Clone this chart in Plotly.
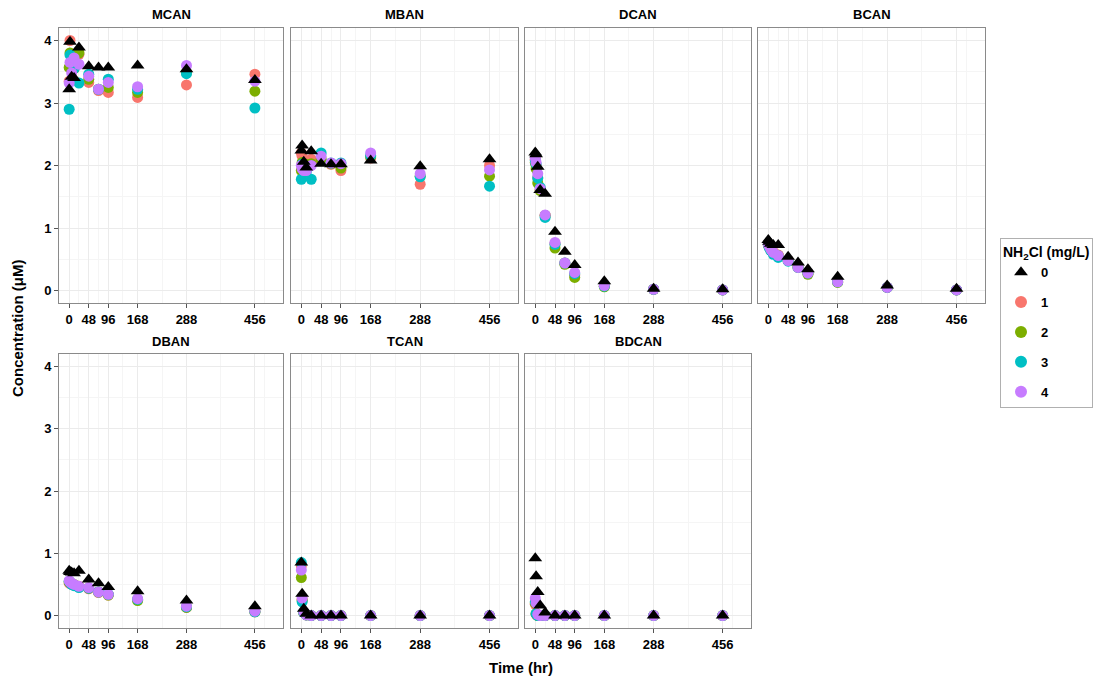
import plotly.graph_objects as go

# Sampling times (hr)
times = [0, 2, 6, 12, 24, 48, 72, 96, 168, 288, 456]

compounds = ["MCAN", "MBAN", "DCAN", "BCAN", "DBAN", "TCAN", "BDCAN"]
doses = ["0", "1", "2", "3", "4"]  # NH2Cl (mg/L)

# Concentration (uM) per compound, one list per dose
MCAN = {
    "0": [3.22, 3.98, 3.42, 3.40, 3.89, 3.59, 3.57, 3.57, 3.60, 3.54, 3.37],
    "1": [3.35, 4.00, 3.72, 3.60, 3.78, 3.33, 3.20, 3.17, 3.09, 3.29, 3.46],
    "2": [3.57, 3.80, 3.62, 3.55, 3.80, 3.38, 3.22, 3.25, 3.17, 3.49, 3.19],
    "3": [2.90, 3.77, 3.70, 3.55, 3.32, 3.46, 3.22, 3.38, 3.22, 3.47, 2.92],
    "4": [3.32, 3.65, 3.48, 3.72, 3.62, 3.43, 3.22, 3.33, 3.26, 3.60, 3.35],
}
MBAN = {
    "0": [2.24, 2.32, 2.06, 1.97, 2.23, 2.03, 2.02, 2.02, 2.08, 1.99, 2.10],
    "1": [2.20, 2.15, 2.05, 2.00, 2.10, 2.08, 2.02, 1.92, 2.12, 1.70, 2.00],
    "2": [1.92, 2.05, 2.00, 2.02, 2.03, 2.10, 2.03, 1.96, 2.14, 1.83, 1.83],
    "3": [1.78, 2.02, 1.95, 1.90, 1.78, 2.20, 2.04, 2.04, 2.16, 1.82, 1.67],
    "4": [2.00, 1.95, 1.92, 1.92, 2.00, 2.15, 2.04, 2.03, 2.20, 1.87, 1.93],
}
DCAN = {
    "0": [2.21, 2.18, 1.98, 1.61, 1.55, 0.94, 0.62, 0.41, 0.15, 0.03, 0.02],
    "1": [2.10, 2.00, 1.80, 1.62, 1.20, 0.75, 0.44, 0.25, 0.07, 0.02, 0.01],
    "2": [2.05, 1.95, 1.72, 1.60, 1.20, 0.68, 0.42, 0.21, 0.06, 0.02, 0.01],
    "3": [2.08, 2.02, 1.80, 1.65, 1.17, 0.74, 0.44, 0.27, 0.07, 0.02, 0.01],
    "4": [2.12, 2.05, 1.87, 1.63, 1.21, 0.77, 0.44, 0.29, 0.08, 0.02, 0.01],
}
BCAN = {
    "0": [0.81, 0.78, 0.75, 0.73, 0.73, 0.54, 0.45, 0.34, 0.22, 0.08, 0.03],
    "1": [0.74, 0.70, 0.66, 0.62, 0.57, 0.48, 0.38, 0.28, 0.14, 0.05, 0.01],
    "2": [0.73, 0.70, 0.65, 0.60, 0.56, 0.48, 0.37, 0.26, 0.13, 0.05, 0.01],
    "3": [0.74, 0.69, 0.64, 0.58, 0.53, 0.47, 0.37, 0.28, 0.14, 0.05, 0.01],
    "4": [0.75, 0.71, 0.66, 0.61, 0.56, 0.48, 0.37, 0.28, 0.14, 0.05, 0.01],
}
DBAN = {
    "0": [0.72, 0.70, 0.69, 0.68, 0.72, 0.58, 0.52, 0.46, 0.39, 0.24, 0.15],
    "1": [0.52, 0.53, 0.50, 0.49, 0.47, 0.43, 0.37, 0.33, 0.25, 0.13, 0.06],
    "2": [0.54, 0.53, 0.51, 0.50, 0.46, 0.44, 0.38, 0.33, 0.24, 0.13, 0.06],
    "3": [0.55, 0.54, 0.50, 0.48, 0.45, 0.44, 0.38, 0.34, 0.26, 0.14, 0.06],
    "4": [0.56, 0.54, 0.52, 0.50, 0.47, 0.45, 0.38, 0.34, 0.27, 0.15, 0.07],
}
TCAN = {
    "0": [0.85, 0.35, 0.11, 0.03, 0.00, 0.00, 0.00, 0.00, 0.00, 0.00, 0.00],
    "1": [0.80, 0.26, 0.05, 0.01, 0.00, 0.00, 0.00, 0.00, 0.00, 0.00, 0.00],
    "2": [0.61, 0.24, 0.05, 0.01, 0.00, 0.00, 0.00, 0.00, 0.00, 0.00, 0.00],
    "3": [0.85, 0.22, 0.05, 0.01, 0.00, 0.00, 0.00, 0.00, 0.00, 0.00, 0.00],
    "4": [0.73, 0.28, 0.06, 0.01, 0.00, 0.00, 0.00, 0.00, 0.00, 0.00, 0.00],
}
BDCAN = {
    "0": [0.92, 0.63, 0.38, 0.16, 0.05, 0.00, 0.00, 0.00, 0.00, 0.00, 0.00],
    "1": [0.18, 0.02, 0.00, 0.00, 0.00, 0.00, 0.00, 0.00, 0.00, 0.00, 0.00],
    "2": [0.20, 0.03, 0.00, 0.00, 0.00, 0.00, 0.00, 0.00, 0.00, 0.00, 0.00],
    "3": [0.22, 0.03, 0.00, 0.00, 0.00, 0.00, 0.00, 0.00, 0.00, 0.00, 0.00],
    "4": [0.28, 0.20, 0.02, 0.00, 0.00, 0.00, 0.00, 0.00, 0.00, 0.00, 0.00],
}
data = {"MCAN": MCAN, "MBAN": MBAN, "DCAN": DCAN, "BCAN": BCAN,
        "DBAN": DBAN, "TCAN": TCAN, "BDCAN": BDCAN}

x_ticks = [0, 48, 96, 168, 288, 456]
x_minor = [-24, 24, 72, 132, 228, 372, 480]
y_ticks = [0, 1, 2, 3, 4]
y_minor = [0.5, 1.5, 2.5, 3.5]

colors = {"1": "#F8766D", "2": "#7CAE00", "3": "#00BFC4", "4": "#C77CFF"}

W, H = 1107, 681
FONT = "Liberation Sans, Arial, sans-serif"

# panel pixel boxes (left, right) and (top, bottom)
cols = [(59, 283), (291, 518), (525, 751), (758, 985)]
rows = [(28, 303), (354, 628)]

fig = go.Figure()
layout = dict(
    width=W, height=H,
    margin=dict(l=0, r=0, t=0, b=0),
    paper_bgcolor="white", plot_bgcolor="white",
    font=dict(family=FONT, color="black"),
    showlegend=True,
)
annotations = []

for i, comp in enumerate(compounds):
    r, c = divmod(i, 4)
    k = i + 1
    xl, xr = cols[c]
    yt, yb = rows[r]
    xname = "xaxis" if k == 1 else f"xaxis{k}"
    yname = "yaxis" if k == 1 else f"yaxis{k}"
    xref = "x" if k == 1 else f"x{k}"
    yref = "y" if k == 1 else f"y{k}"
    layout[xname] = dict(
        domain=[xl / W, xr / W], anchor=yref, range=[-25, 525],
        tickmode="array", tickvals=x_ticks, ticktext=[str(v) for v in x_ticks],
        tickfont=dict(size=13, weight="bold", color="black", family=FONT),
        ticks="outside", ticklen=4, tickcolor="#555555",
        showgrid=True, gridcolor="#ebebeb", gridwidth=1,
        minor=dict(tickvals=x_minor, showgrid=True, gridcolor="#f5f5f5", gridwidth=1, ticks=""),
        showline=True, linecolor="#8a8a8a", linewidth=1, mirror=True,
        zeroline=False,
    )
    layout[yname] = dict(
        domain=[1 - yb / H, 1 - yt / H], anchor=xref, range=[-0.2, 4.2],
        tickmode="array", tickvals=y_ticks,
        showticklabels=(c == 0),
        tickfont=dict(size=13, weight="bold", color="black", family=FONT),
        ticks="outside" if c == 0 else "", ticklen=4, tickcolor="#555555",
        showgrid=True, gridcolor="#ebebeb", gridwidth=1,
        minor=dict(tickvals=y_minor, showgrid=True, gridcolor="#f5f5f5", gridwidth=1, ticks=""),
        showline=True, linecolor="#8a8a8a", linewidth=1, mirror=True,
        zeroline=False,
    )
    annotations.append(dict(
        text=f"<b>{comp}</b>", x=(xl + xr) / 2 / W, y=1 - (yt - 13) / H,
        xref="paper", yref="paper", xanchor="center", yanchor="middle",
        showarrow=False, font=dict(size=13, family=FONT, color="black"),
    ))

    # chloramine-dosed series as circles, then the 0 mg/L series as triangles on top
    for d in ["1", "2", "3", "4", "0"]:
        is_zero = d == "0"
        fig.add_trace(go.Scatter(
            x=times, y=data[comp][d], mode="markers",
            xaxis=xref, yaxis=yref,
            name=d, legendgroup=d, showlegend=(i == 0),
            legendrank=int(d) + 1,
            marker=dict(
                symbol="triangle-up" if is_zero else "circle",
                size=12 if is_zero else 11,
                color="black" if is_zero else colors[d],
                line=dict(width=0),
            ),
        ))

# shared axis titles
annotations.append(dict(
    text="<b>Time (hr)</b>", x=521 / W, y=1 - 667 / H, xref="paper", yref="paper",
    xanchor="center", yanchor="middle", showarrow=False,
    font=dict(size=15, family=FONT, color="black"),
))
annotations.append(dict(
    text="<b>Concentration (μM)</b>", x=17 / W, y=1 - 328 / H, xref="paper", yref="paper",
    xanchor="center", yanchor="middle", showarrow=False, textangle=-90,
    font=dict(size=15, family=FONT, color="black"),
))
layout["annotations"] = annotations

layout["legend"] = dict(
    x=1000 / W, y=1 - 238 / H, xanchor="left", yanchor="top",
    title=dict(text="<b>NH<sub>2</sub>Cl (mg/L)</b>", font=dict(size=14, family=FONT)),
    font=dict(size=13, family=FONT, weight="bold"),
    bordercolor="#b0b0b0", borderwidth=1, bgcolor="white",
    tracegroupgap=10, itemsizing="constant",
)

fig.update_layout(**layout)
fig.write_html("out.html")
